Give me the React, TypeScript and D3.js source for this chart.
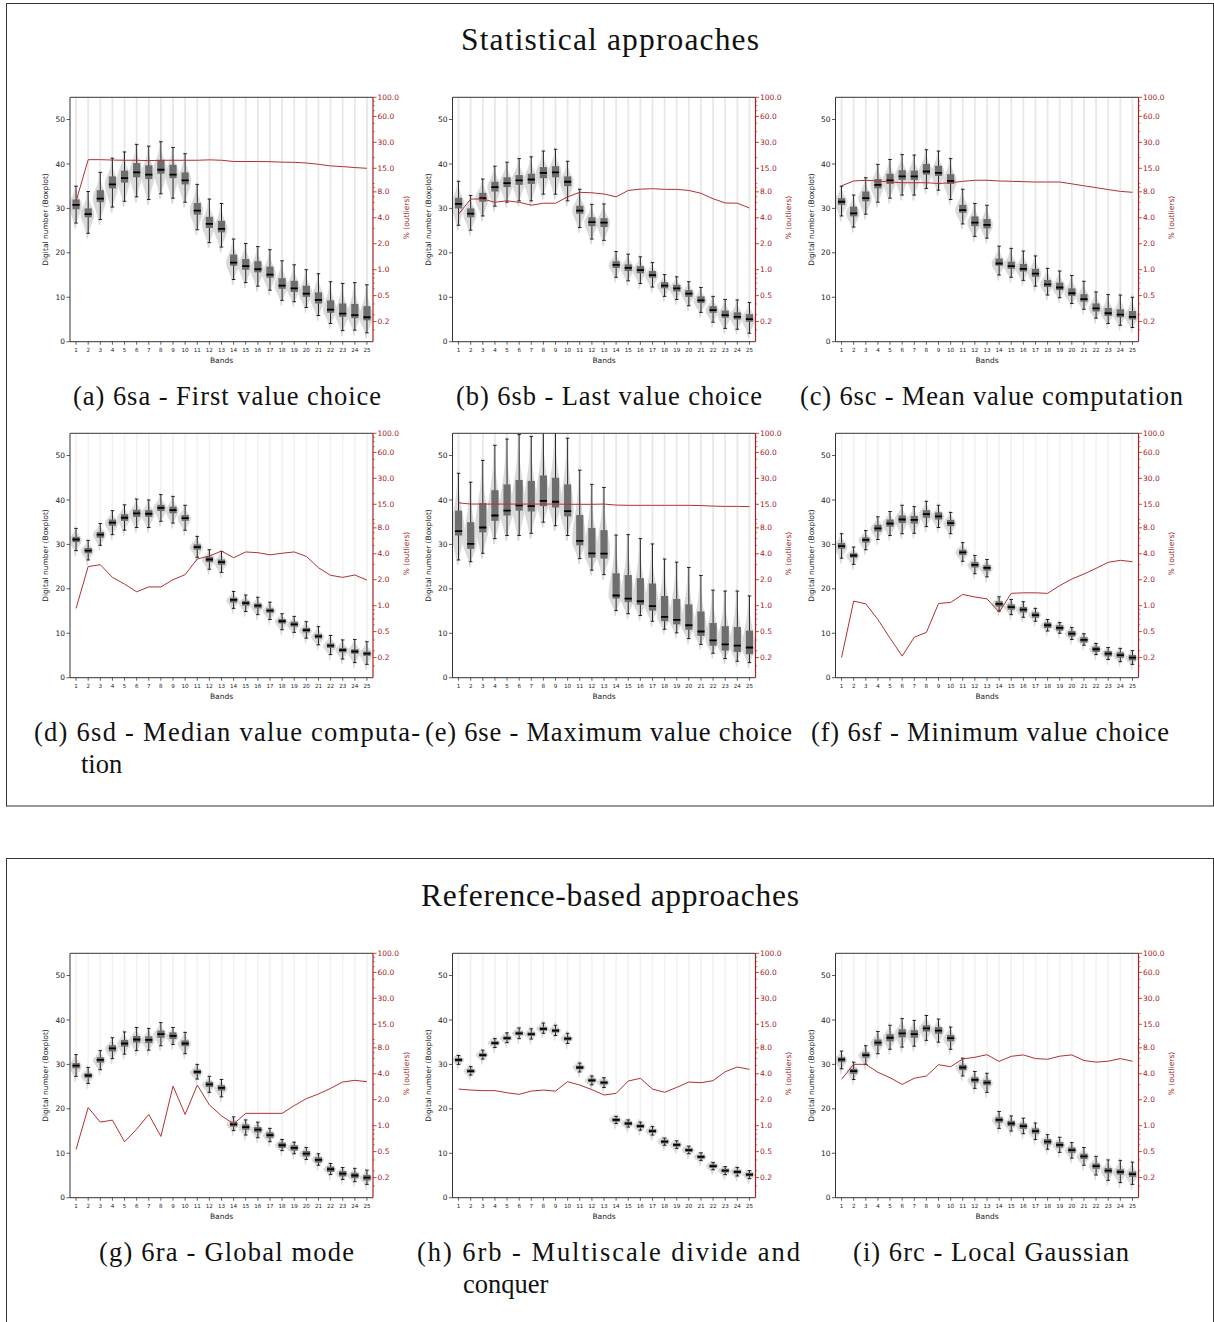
import * as d3 from 'd3';
import React from 'react';

// Bands on the x axis
const bands = [1, 2, 3, 4, 5, 6, 7, 8, 9, 10, 11, 12, 13, 14, 15, 16, 17, 18, 19, 20, 21, 22, 23, 24, 25];
const yTicks = [0, 10, 20, 30, 40, 50];
// right log axis (matplotlib printed 0.25 as "0.2")
const pctTicks = [0.25, 0.5, 1, 2, 4, 8, 15, 30, 60, 100];
const pctTickLabels = ['0.2', '0.5', '1.0', '2.0', '4.0', '8.0', '15.0', '30.0', '60.0', '100.0'];

// ---- 6sa - First value choice
const saMed = [30.8, 28.7, 32.2, 35.4, 36.8, 38.1, 37.6, 38.7, 37.6, 36.3, 29.5, 26.5, 25.4, 17.8, 17.0, 16.3, 15.1, 12.6, 12.0, 10.8, 9.4, 7.2, 6.3, 6.0, 5.5];
const saQ1 = [29.8, 28.0, 31.4, 34.5, 35.8, 37.0, 36.6, 37.8, 36.8, 35.4, 28.6, 25.6, 24.6, 17.1, 16.2, 15.6, 14.4, 11.9, 11.2, 10.1, 8.6, 6.5, 5.6, 5.3, 4.8];
const saQ3 = [32.0, 30.0, 34.1, 37.2, 38.5, 40.2, 39.7, 40.9, 39.8, 38.1, 31.2, 28.1, 27.2, 19.6, 18.6, 18.1, 16.9, 14.3, 13.7, 12.6, 11.1, 9.3, 8.6, 8.5, 8.0];
const saLo = [26.7, 24.4, 27.5, 30.3, 31.6, 32.6, 32.0, 33.3, 32.3, 31.4, 25.2, 22.3, 21.3, 14.0, 13.3, 12.5, 11.6, 9.3, 9.0, 7.7, 5.9, 4.1, 2.5, 2.6, 2.0];
const saHi = [35.0, 33.8, 38.1, 41.3, 42.7, 44.4, 44.0, 45.0, 43.7, 42.3, 35.4, 32.1, 31.1, 23.1, 22.1, 21.4, 20.7, 18.2, 17.3, 16.2, 15.3, 13.5, 13.1, 13.3, 12.8];
const saPct = [6.2, 18.9, 18.9, 18.7, 18.6, 18.6, 18.4, 18.6, 18.6, 18.6, 18.6, 18.8, 18.6, 18.0, 18.0, 18.0, 17.9, 17.7, 17.6, 17.3, 16.7, 16.0, 15.7, 15.3, 15.0];

// ---- 6sb - Last value choice
const sbMed = [31.0, 28.8, 32.3, 34.8, 35.7, 36.3, 36.5, 38.0, 38.1, 36.0, 29.5, 26.9, 26.8, 17.3, 16.6, 16.1, 15.0, 12.6, 12.0, 10.8, 9.3, 7.1, 6.0, 5.6, 5.1];
const sbQ1 = [30.0, 28.0, 31.5, 33.8, 34.8, 35.3, 35.5, 36.8, 37.0, 35.0, 28.8, 26.0, 25.8, 16.6, 15.9, 15.4, 14.4, 12.0, 11.3, 10.1, 8.7, 6.5, 5.4, 5.0, 4.5];
const sbQ3 = [32.4, 30.0, 33.5, 36.0, 37.0, 37.5, 37.8, 39.3, 39.5, 37.2, 30.6, 28.0, 27.8, 18.1, 17.4, 17.0, 15.9, 13.4, 12.8, 11.6, 10.2, 8.0, 7.0, 6.6, 6.2];
const sbLo = [26.2, 25.1, 28.3, 30.5, 31.4, 31.7, 31.7, 33.2, 33.2, 31.7, 25.7, 23.1, 22.8, 14.5, 13.7, 13.1, 12.3, 10.2, 9.5, 8.1, 6.6, 4.4, 3.0, 2.8, 1.9];
const sbHi = [36.1, 32.9, 36.6, 39.5, 40.4, 41.2, 41.6, 42.9, 43.3, 40.6, 34.3, 30.9, 31.0, 20.3, 19.7, 19.1, 17.8, 15.1, 14.6, 13.5, 12.2, 10.2, 9.5, 9.4, 8.8];
const sbPct = [4.4, 6.6, 6.6, 6.05, 6.3, 6.05, 5.6, 5.9, 5.9, 7.0, 7.9, 7.8, 7.55, 7.0, 8.3, 8.6, 8.7, 8.55, 8.55, 8.3, 7.7, 6.65, 5.95, 5.9, 5.2];

// ---- 6sc - Mean value computation
const scMed = [31.5, 28.9, 32.3, 35.3, 36.3, 37.2, 37.2, 38.3, 38.0, 36.2, 29.6, 26.8, 26.3, 17.6, 17.0, 16.4, 15.3, 12.9, 12.2, 10.9, 9.6, 7.5, 6.4, 6.1, 5.6];
const scQ1 = [30.8, 28.2, 31.6, 34.5, 35.5, 36.4, 36.4, 37.6, 37.3, 35.5, 29.0, 26.0, 25.5, 17.1, 16.4, 15.8, 14.6, 12.3, 11.6, 10.3, 9.0, 6.8, 5.8, 5.5, 5.0];
const scQ3 = [32.3, 30.4, 33.8, 36.6, 37.8, 38.6, 38.5, 40.0, 39.6, 37.7, 30.8, 28.2, 27.6, 18.7, 18.0, 17.5, 16.4, 13.9, 13.3, 12.0, 10.7, 8.6, 7.6, 7.3, 6.9];
const scLo = [28.3, 25.8, 28.7, 31.4, 32.3, 33.0, 33.0, 34.5, 34.1, 32.0, 26.5, 23.7, 23.3, 15.0, 14.5, 13.8, 12.5, 10.5, 9.9, 8.6, 7.3, 5.3, 4.1, 3.7, 3.2];
const scHi = [35.0, 33.0, 36.9, 39.9, 41.0, 42.1, 42.0, 43.2, 42.9, 41.2, 34.3, 31.1, 30.7, 21.5, 21.0, 20.4, 19.3, 16.5, 15.9, 14.9, 13.6, 11.2, 10.6, 10.5, 10.0];
const scPct = [9.4, 10.7, 10.9, 10.7, 10.4, 10.2, 10.2, 10.2, 10.0, 10.2, 10.6, 10.9, 10.9, 10.7, 10.6, 10.5, 10.4, 10.4, 10.4, 9.9, 9.4, 8.95, 8.5, 8.1, 7.9];

// ---- 6sd - Median value computation
const sdMed = [31.1, 28.6, 32.2, 34.9, 36.0, 37.0, 36.9, 38.2, 37.7, 35.9, 29.4, 26.6, 26.0, 17.5, 16.8, 16.2, 15.1, 12.7, 12.0, 10.7, 9.3, 7.2, 6.2, 5.9, 5.4];
const sdQ1 = [30.5, 28.0, 31.5, 34.2, 35.3, 36.2, 36.2, 37.5, 37.0, 35.3, 28.8, 26.0, 25.4, 16.9, 16.2, 15.6, 14.6, 12.2, 11.5, 10.2, 8.8, 6.7, 5.7, 5.4, 4.9];
const sdQ3 = [31.7, 29.2, 32.8, 35.6, 36.8, 37.8, 37.7, 38.9, 38.5, 36.6, 30.0, 27.2, 26.6, 18.0, 17.3, 16.7, 15.6, 13.2, 12.6, 11.2, 9.8, 7.7, 6.7, 6.4, 5.9];
const sdLo = [28.6, 26.5, 29.8, 32.2, 33.2, 33.8, 33.8, 35.2, 34.8, 33.2, 27.1, 24.4, 23.7, 15.6, 14.9, 14.2, 13.1, 10.8, 10.2, 8.9, 7.4, 5.2, 4.2, 3.4, 3.0];
const sdHi = [33.6, 30.9, 34.7, 37.6, 38.9, 40.2, 40.0, 41.2, 40.8, 38.8, 31.8, 28.8, 28.4, 19.4, 18.6, 18.1, 17.0, 14.4, 13.8, 12.6, 11.5, 9.5, 8.5, 8.6, 8.1];
const sdPct = [0.93, 2.84, 2.99, 2.13, 1.78, 1.45, 1.65, 1.65, 2.0, 2.29, 3.48, 3.77, 4.3, 3.6, 4.2, 4.12, 3.89, 4.06, 4.2, 3.73, 2.76, 2.25, 2.13, 2.27, 1.98];

// ---- 6se - Maximum value choice
const seMed = [33.0, 30.1, 33.8, 36.5, 37.6, 38.8, 38.6, 39.8, 39.6, 37.5, 30.8, 28.0, 27.9, 18.5, 17.8, 17.2, 16.1, 13.7, 13.0, 11.8, 10.4, 8.4, 7.5, 7.2, 6.8];
const seQ1 = [32.0, 29.0, 32.7, 35.3, 36.5, 37.6, 37.4, 38.6, 38.3, 36.3, 29.8, 27.0, 26.8, 17.8, 17.0, 16.4, 15.1, 12.7, 12.0, 10.8, 9.4, 7.2, 6.1, 5.8, 5.3];
const seQ3 = [37.6, 35.0, 39.3, 42.2, 43.5, 44.5, 44.3, 45.5, 45.0, 43.5, 36.6, 33.7, 33.2, 23.5, 23.1, 22.4, 21.2, 18.4, 17.7, 16.5, 14.9, 12.3, 11.6, 11.4, 10.6];
const seLo = [26.5, 26.1, 28.0, 31.3, 32.0, 32.0, 32.5, 35.0, 34.2, 32.0, 26.8, 24.2, 23.2, 15.1, 14.4, 14.0, 12.7, 10.9, 10.1, 8.8, 7.5, 5.5, 4.3, 3.7, 3.4];
const seHi = [46.0, 44.0, 48.9, 52.3, 53.7, 54.7, 54.3, 56.0, 56.0, 53.9, 46.7, 43.5, 42.8, 32.1, 32.2, 31.3, 30.1, 26.7, 26.0, 24.8, 23.0, 19.7, 19.5, 19.5, 18.4];
const sePct = [15.6, 15.1, 15.1, 15.1, 15.1, 15.1, 15.1, 15.1, 15.1, 15.0, 15.0, 15.0, 15.1, 14.7, 14.6, 14.6, 14.6, 14.6, 14.6, 14.6, 14.5, 14.3, 14.2, 14.2, 14.1];

// ---- 6sf - Minimum value choice
const sfMed = [29.6, 27.5, 31.0, 33.6, 34.7, 35.6, 35.5, 36.8, 36.3, 34.8, 28.2, 25.4, 24.7, 16.6, 15.9, 15.3, 14.1, 11.8, 11.2, 9.9, 8.5, 6.4, 5.4, 5.1, 4.5];
const sfQ1 = [29.0, 27.0, 30.4, 32.9, 34.0, 34.8, 34.7, 36.0, 35.6, 34.1, 27.6, 24.8, 24.1, 16.0, 15.3, 14.7, 13.5, 11.2, 10.6, 9.3, 7.9, 5.8, 4.8, 4.5, 3.9];
const sfQ3 = [30.3, 28.0, 31.6, 34.4, 35.6, 36.5, 36.4, 37.7, 37.2, 35.5, 28.8, 26.0, 25.3, 17.2, 16.5, 15.9, 14.7, 12.4, 11.8, 10.5, 9.1, 7.0, 6.0, 5.7, 5.1];
const sfLo = [26.9, 25.5, 28.8, 31.1, 32.0, 32.4, 32.5, 34.0, 33.8, 32.4, 26.2, 23.4, 22.7, 15.0, 14.2, 13.6, 12.7, 10.5, 10.0, 8.6, 7.3, 5.2, 4.1, 3.6, 3.0];
const sfHi = [32.4, 29.4, 33.1, 36.2, 37.4, 38.8, 38.5, 39.7, 38.8, 37.2, 30.4, 27.5, 26.6, 18.2, 17.6, 17.1, 15.6, 13.1, 12.4, 11.3, 9.9, 7.7, 6.8, 6.6, 6.1];
const sfPct = [0.25, 1.13, 1.05, 0.69, 0.42, 0.26, 0.43, 0.49, 1.06, 1.09, 1.35, 1.26, 1.2, 0.84, 1.39, 1.41, 1.41, 1.39, 1.71, 2.04, 2.33, 2.71, 3.18, 3.36, 3.24];

// ---- 6ra - Global mode
const raMed = [29.7, 27.5, 31.0, 33.6, 34.7, 35.6, 35.5, 36.8, 36.4, 34.7, 28.3, 25.5, 24.7, 16.5, 15.9, 15.3, 14.1, 11.8, 11.2, 9.9, 8.5, 6.4, 5.4, 5.0, 4.5];
const raQ1 = [29.1, 27.0, 30.4, 32.9, 34.0, 34.9, 34.8, 36.0, 35.7, 34.1, 27.8, 24.9, 24.1, 16.0, 15.3, 14.7, 13.5, 11.2, 10.6, 9.3, 7.9, 5.8, 4.8, 4.4, 3.9];
const raQ3 = [30.3, 28.0, 31.6, 34.3, 35.5, 36.4, 36.3, 37.6, 37.2, 35.4, 28.8, 26.1, 25.3, 17.1, 16.5, 15.9, 14.7, 12.4, 11.8, 10.5, 9.1, 7.0, 6.0, 5.6, 5.1];
const raLo = [27.3, 25.7, 28.8, 31.3, 32.3, 33.1, 33.2, 34.2, 34.5, 32.4, 26.7, 23.7, 22.7, 15.1, 14.1, 13.5, 12.6, 10.6, 9.9, 8.6, 7.3, 5.2, 4.1, 3.6, 3.0];
const raHi = [32.2, 29.3, 33.1, 36.0, 37.3, 38.3, 38.1, 39.4, 38.3, 37.2, 30.0, 27.3, 26.6, 18.2, 17.5, 17.0, 15.6, 13.1, 12.5, 11.3, 9.9, 7.7, 6.8, 6.6, 6.2];
const raPct = [0.53, 1.62, 1.1, 1.16, 0.65, 0.91, 1.35, 0.75, 2.88, 1.35, 2.96, 1.74, 1.3, 1.05, 1.39, 1.39, 1.39, 1.39, 1.71, 2.06, 2.33, 2.71, 3.21, 3.36, 3.24];

// ---- 6rb - Multiscale divide and conquer
const rbMed = [31.0, 28.5, 32.1, 34.8, 35.9, 37.0, 36.8, 38.0, 37.6, 35.8, 29.3, 26.4, 25.9, 17.5, 16.7, 16.1, 15.0, 12.6, 11.9, 10.7, 9.2, 7.1, 6.1, 5.8, 5.2];
const rbQ1 = [30.6, 28.1, 31.7, 34.4, 35.5, 36.6, 36.4, 37.6, 37.2, 35.4, 28.9, 26.0, 25.5, 17.1, 16.3, 15.7, 14.6, 12.2, 11.5, 10.3, 8.8, 6.7, 5.7, 5.4, 4.8];
const rbQ3 = [31.4, 28.9, 32.5, 35.2, 36.3, 37.4, 37.2, 38.4, 38.0, 36.2, 29.7, 26.8, 26.3, 17.9, 17.1, 16.5, 15.4, 13.0, 12.3, 11.1, 9.6, 7.5, 6.5, 6.2, 5.6];
const rbLo = [30.0, 27.6, 31.2, 33.8, 34.9, 35.8, 35.7, 37.0, 36.5, 34.7, 28.3, 25.4, 24.8, 16.7, 15.9, 15.2, 14.1, 11.8, 11.1, 9.9, 8.4, 6.3, 5.2, 4.9, 4.3];
const rbHi = [32.0, 29.5, 33.2, 35.8, 37.1, 38.2, 38.0, 39.3, 38.8, 37.0, 30.3, 27.4, 27.0, 18.3, 17.5, 17.0, 16.0, 13.4, 12.8, 11.6, 10.1, 7.9, 7.0, 6.8, 6.1];
const rbPct = [2.66, 2.59, 2.55, 2.55, 2.41, 2.31, 2.52, 2.59, 2.52, 3.24, 2.96, 2.62, 2.27, 2.37, 3.3, 3.54, 2.66, 2.44, 2.78, 3.21, 3.15, 3.33, 4.23, 4.79, 4.5];

// ---- 6rc - Local Gaussian
const rcMed = [31.1, 28.5, 32.1, 34.9, 36.0, 37.0, 36.8, 38.1, 37.6, 35.9, 29.3, 26.5, 25.9, 17.5, 16.7, 16.1, 15.0, 12.6, 11.9, 10.7, 9.3, 7.1, 6.1, 5.8, 5.3];
const rcQ1 = [30.5, 27.9, 31.5, 34.2, 35.2, 36.1, 36.0, 37.4, 36.9, 35.2, 28.7, 25.9, 25.3, 16.9, 16.1, 15.5, 14.4, 12.0, 11.3, 10.1, 8.7, 6.5, 5.5, 5.2, 4.7];
const rcQ3 = [31.6, 29.0, 32.7, 35.6, 36.8, 37.9, 37.7, 38.8, 38.4, 36.6, 29.9, 27.1, 26.5, 18.1, 17.3, 16.7, 15.6, 13.2, 12.5, 11.3, 9.9, 7.7, 6.7, 6.4, 5.9];
const rcLo = [29.0, 26.6, 30.0, 32.4, 33.4, 33.9, 34.1, 35.4, 35.0, 33.4, 27.4, 24.6, 23.7, 15.6, 15.0, 14.4, 13.1, 10.9, 10.2, 8.9, 7.3, 5.1, 3.9, 3.4, 3.0];
const rcHi = [33.0, 30.5, 34.2, 37.4, 38.8, 40.3, 39.9, 41.0, 40.2, 38.4, 31.4, 28.4, 28.0, 19.4, 18.4, 17.9, 16.8, 14.2, 13.6, 12.4, 11.3, 9.3, 8.5, 8.4, 8.0];
const rcPct = [3.45, 5.15, 5.15, 4.16, 3.6, 3.01, 3.55, 3.77, 5.1, 4.83, 5.94, 6.22, 6.66, 5.57, 6.38, 6.62, 6.0, 5.9, 6.4, 6.62, 5.7, 5.46, 5.6, 6.0, 5.6];

// captions
const captions = [
  ['(a) 6sa - First value choice'],
  ['(b) 6sb - Last value choice'],
  ['(c) 6sc - Mean value computation'],
  ['(d) 6sd - Median value computa-', 'tion'],
  ['(e) 6se - Maximum value choice'],
  ['(f) 6sf - Minimum value choice'],
  ['(g) 6ra - Global mode'],
  ['(h) 6rb - Multiscale divide and', 'conquer'],
  ['(i) 6rc - Local Gaussian'],
];

const series = [
  { med: saMed, q1: saQ1, q3: saQ3, lo: saLo, hi: saHi, pct: saPct },
  { med: sbMed, q1: sbQ1, q3: sbQ3, lo: sbLo, hi: sbHi, pct: sbPct },
  { med: scMed, q1: scQ1, q3: scQ3, lo: scLo, hi: scHi, pct: scPct },
  { med: sdMed, q1: sdQ1, q3: sdQ3, lo: sdLo, hi: sdHi, pct: sdPct },
  { med: seMed, q1: seQ1, q3: seQ3, lo: seLo, hi: seHi, pct: sePct },
  { med: sfMed, q1: sfQ1, q3: sfQ3, lo: sfLo, hi: sfHi, pct: sfPct },
  { med: raMed, q1: raQ1, q3: raQ3, lo: raLo, hi: raHi, pct: raPct },
  { med: rbMed, q1: rbQ1, q3: rbQ3, lo: rbLo, hi: rbHi, pct: rbPct },
  { med: rcMed, q1: rcQ1, q3: rcQ3, lo: rcLo, hi: rcHi, pct: rcPct },
];

// layout
const W = 303;
const H = 244.4;
const colX = [70, 452.5, 835.5];
const rowY = [97.3, 433.3, 953.3];
// caption line placement: [x, length (0 = natural), baseline]
const captionPos = [
  [[73, 308, 405]],
  [[456, 306, 405]],
  [[800, 383, 405]],
  [[34, 386, 741], [81, 0, 773]],
  [[425, 367, 741]],
  [[811, 358, 741]],
  [[99, 255, 1261]],
  [[417, 383, 1261], [463, 0, 1293]],
  [[853, 276, 1261]],
];
const faintTails = [false, false, false, true, false, true, true, true, true];

const RED = '#a52222';
const LINE_RED = '#b23030';
const SANS = "'DejaVu Sans', sans-serif";
const SERIF = "'Liberation Serif', serif";

function Panel({ idx }: { idx: number }) {
  const s = series[idx];
  const left = colX[idx % 3];
  const top = rowY[Math.floor(idx / 3)];
  const x = d3.scaleLinear().domain([0.5, 25.5]).range([left, left + W]);
  const y = d3.scaleLinear().domain([0, 55]).range([top + H, top]);
  const yr = d3.scaleLog().domain([0.146, 100]).range([top + H, top]);
  const clipId = `clip${idx}`;
  const faint = faintTails[idx];

  const line = d3.line<number>()
    .x((_, i) => x(bands[i]))
    .y(d => yr(d));

  // light grey density shape behind each box, shaped from the box's own stats
  const violin = (i: number) => {
    const med = s.med[i], lo = s.lo[i], hi = s.hi[i];
    const sL = Math.max((med - lo) / 2, 0.6);
    const sH = Math.max((hi - med) / 3, 0.6);
    const cx = x(bands[i]);
    const vs = d3.range(lo - 1.2, hi + 0.6, 0.45);
    const wf = (v: number) => {
      const z = v < med ? (med - v) / sL : (v - med) / sH;
      return 6.2 * Math.exp(-0.5 * z * z) + 0.6;
    };
    return d3.area<number>()
      .curve(d3.curveStep)
      .y(v => y(v))
      .x0(v => cx - 0.8 - wf(v))
      .x1(v => cx - 0.8 + wf(v))(vs) as string;
  };

  const minor = yr.ticks().filter(t => !pctTicks.includes(t));
  const bw = 3.6;

  return (
    <g>
      <defs>
        <clipPath id={clipId}>
          <rect x={left} y={top} width={W} height={H} />
        </clipPath>
      </defs>
      <g clipPath={`url(#${clipId})`}>
        {bands.map((b, i) => (
          <g key={b}>
            <line x1={x(b)} x2={x(b)} y1={y(s.hi[i])} y2={y(55)}
              stroke={faint ? '#f2f2f2' : '#e8e8e8'} strokeWidth={faint ? 1.5 : 1.8} />
            <path d={violin(i)} fill="#dadada" />
            <line x1={x(b)} x2={x(b)} y1={y(s.lo[i])} y2={y(s.hi[i])} stroke="#111" strokeWidth={0.9} />
            <line x1={x(b) - 1.8} x2={x(b) + 1.8} y1={y(s.lo[i])} y2={y(s.lo[i])} stroke="#111" strokeWidth={0.9} />
            <line x1={x(b) - 1.8} x2={x(b) + 1.8} y1={y(s.hi[i])} y2={y(s.hi[i])} stroke="#111" strokeWidth={0.9} />
            <rect x={x(b) - bw} width={bw * 2} y={y(s.q3[i])} height={y(s.q1[i]) - y(s.q3[i])} fill="#6e6e6e" />
            <line x1={x(b) - bw} x2={x(b) + bw} y1={y(s.med[i])} y2={y(s.med[i])} stroke="#000" strokeWidth={1.8} />
          </g>
        ))}
        <path d={line(s.pct) as string} fill="none" stroke={LINE_RED} strokeWidth={1} />
      </g>

      {/* spines */}
      <path d={`M${left + W},${top}H${left}V${top + H}H${left + W}`} fill="none" stroke="#333" strokeWidth={1} />
      <line x1={left + W} x2={left + W} y1={top} y2={top + H} stroke={RED} strokeWidth={1.2} />

      {/* left axis */}
      {yTicks.map(t => (
        <g key={t}>
          <line x1={left - 3.5} x2={left} y1={y(t)} y2={y(t)} stroke="#333" strokeWidth={0.8} />
          <text x={left - 5} y={y(t) + 2.6} fontSize={7.5} fontFamily={SANS} textAnchor="end" fill="#222">{t}</text>
        </g>
      ))}
      <text transform={`translate(${left - 21.7},${top + H / 2}) rotate(-90)`} fontSize={7.5}
        fontFamily={SANS} textAnchor="middle" fill="#222">Digital number (Boxplot)</text>

      {/* bottom axis */}
      {bands.map(b => (
        <g key={b}>
          <line x1={x(b)} x2={x(b)} y1={top + H} y2={top + H + 3} stroke="#333" strokeWidth={0.8} />
          <text x={x(b)} y={top + H + 10.3} fontSize={5.6} fontFamily={SANS} textAnchor="middle" fill="#222">{b}</text>
        </g>
      ))}
      <text x={left + W / 2} y={top + H + 21} fontSize={7.5} fontFamily={SANS} textAnchor="middle" fill="#222">Bands</text>

      {/* right log axis */}
      {minor.map(t => (
        <line key={t} x1={left + W} x2={left + W + 1.8} y1={yr(t)} y2={yr(t)} stroke={RED} strokeWidth={0.6} />
      ))}
      {pctTicks.map((t, i) => (
        <g key={t}>
          <line x1={left + W} x2={left + W + 3.5} y1={yr(t)} y2={yr(t)} stroke={RED} strokeWidth={0.8} />
          <text x={left + W + 4.5} y={yr(t) + 2.6} fontSize={7.5} fontFamily={SANS} fill={RED}>{pctTickLabels[i]}</text>
        </g>
      ))}
      <text transform={`translate(${left + W + 35.5},${top + H / 2 - 2}) rotate(-90)`} fontSize={7.5}
        fontFamily={SANS} textAnchor="middle" fill={RED}>% (outliers)</text>

      {/* caption */}
      {captions[idx].map((c, k) => {
        const [cx, len, cy] = captionPos[idx][k];
        return len > 0 ? (
          <text key={k} x={cx} y={cy} fontSize={26.5} fontFamily={SERIF} fill="#111"
            textLength={len} lengthAdjust="spacing">{c}</text>
        ) : (
          <text key={k} x={cx} y={cy} fontSize={26.5} fontFamily={SERIF} fill="#111">{c}</text>
        );
      })}
    </g>
  );
}

export default function App() {
  return (
    <svg width={1214} height={1322} style={{ position: 'absolute', left: 0, top: 0, background: '#fff' }}>
      <rect x={0} y={0} width={1214} height={1322} fill="#fff" />
      <rect x={6.5} y={3.5} width={1207} height={802.5} fill="none" stroke="#333" strokeWidth={1} />
      <rect x={6.5} y={858.5} width={1207} height={480} fill="none" stroke="#333" strokeWidth={1} />
      <text x={461} y={50} fontSize={31.5} fontFamily={SERIF} fill="#111" textLength={298}
        lengthAdjust="spacing">Statistical approaches</text>
      <text x={421} y={906} fontSize={31.5} fontFamily={SERIF} fill="#111" textLength={378}
        lengthAdjust="spacing">Reference-based approaches</text>
      {series.map((_, i) => <Panel key={i} idx={i} />)}
    </svg>
  );
}
